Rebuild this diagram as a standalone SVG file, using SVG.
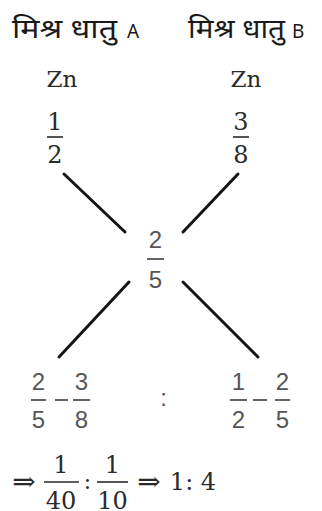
<svg xmlns="http://www.w3.org/2000/svg" width="322" height="511" viewBox="0 0 322 511">
<style>
.hi{font-family:"Noto Sans","DejaVu Sans",sans-serif;font-size:27px;fill:#1a1a1a}
.la{font-family:"Noto Sans","DejaVu Sans",sans-serif;font-size:19px;fill:#1a1a1a}
.sr{font-family:"DejaVu Serif","Liberation Serif",serif;fill:#2a2a2a;text-anchor:middle}
.ss{font-family:"Liberation Sans","DejaVu Sans",sans-serif;fill:#555;text-anchor:middle;font-size:24px}
.bar{stroke:#2a2a2a;stroke-width:1.6}
.gbar{stroke:#666;stroke-width:2}
.con{stroke:#151515;stroke-width:3;stroke-linecap:round}
</style>
<rect width="322" height="511" fill="#fff"/>
<g id="headerA"><text class="hi" x="12" y="38" textLength="105" lengthAdjust="spacingAndGlyphs">मिश्र धातु</text><text class="la" x="127" y="38">A</text></g>
<g id="headerB"><text class="hi" x="188" y="38" textLength="97" lengthAdjust="spacingAndGlyphs">मिश्र धातु</text><text class="la" x="292" y="38">B</text></g>
<g id="znA"><text class="sr" x="62" y="87" font-size="23">Zn</text></g>
<g id="znB"><text class="sr" x="246" y="87" font-size="23">Zn</text></g>
<g id="fracA">
<text class="sr" x="55" y="130" font-size="24">1</text>
<line class="bar" x1="47" y1="137" x2="63" y2="137"/>
<text class="sr" x="55" y="163" font-size="24">2</text>
</g>
<g id="fracB">
<text class="sr" x="241" y="130" font-size="24">3</text>
<line class="bar" x1="233" y1="137" x2="249" y2="137"/>
<text class="sr" x="241" y="163" font-size="24">8</text>
</g>
<g id="center">
<text class="ss" x="155.5" y="248">2</text>
<line class="gbar" x1="147" y1="259" x2="164" y2="259"/>
<text class="ss" x="155.5" y="288">5</text>
</g>
<g id="connectors">
<line class="con" x1="64" y1="174" x2="125" y2="232"/>
<line class="con" x1="238" y1="174" x2="183" y2="232"/>
<line class="con" x1="129" y1="282" x2="59" y2="357"/>
<line class="con" x1="183" y1="282" x2="258" y2="357"/>
</g>
<g id="diffA">
<text class="ss" x="38.5" y="390">2</text>
<line class="gbar" x1="31" y1="400" x2="46" y2="400"/>
<text class="ss" x="38.5" y="428">5</text>
<line class="gbar" x1="55" y1="400" x2="68" y2="400"/>
<text class="ss" x="81.5" y="390">3</text>
<line class="gbar" x1="73" y1="400" x2="90" y2="400"/>
<text class="ss" x="81.5" y="428">8</text>
</g>
<g id="ratioColon"><text class="ss" x="163.5" y="406">:</text></g>
<g id="diffB">
<text class="ss" x="238.5" y="390">1</text>
<line class="gbar" x1="230" y1="400" x2="247" y2="400"/>
<text class="ss" x="238.5" y="428">2</text>
<line class="gbar" x1="253" y1="400" x2="267" y2="400"/>
<text class="ss" x="282.5" y="390">2</text>
<line class="gbar" x1="275" y1="400" x2="290" y2="400"/>
<text class="ss" x="282.5" y="428">5</text>
</g>
<g id="result">
<text class="sr" x="24" y="491" font-size="28">⇒</text>
<text class="sr" x="61" y="473" font-size="24">1</text>
<line class="bar" x1="44" y1="482" x2="79" y2="482"/>
<text class="sr" x="61" y="509" font-size="24">40</text>
<text class="sr" x="87.5" y="489" font-size="22">:</text>
<text class="sr" x="112.5" y="473" font-size="24">1</text>
<line class="bar" x1="97" y1="482" x2="128" y2="482"/>
<text class="sr" x="112.5" y="509" font-size="24">10</text>
<text class="sr" x="149" y="491" font-size="28">⇒</text>
<text class="sr" x="193" y="490" font-size="24">1: 4</text>
</g>
</svg>
